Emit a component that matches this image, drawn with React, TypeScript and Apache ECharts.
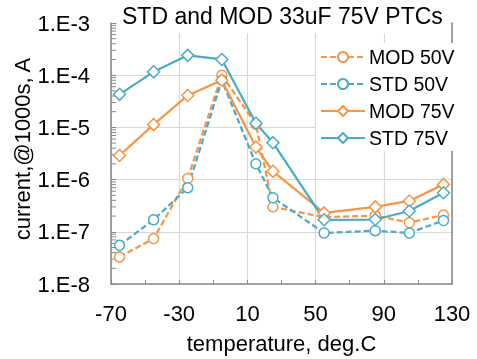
import React, { useEffect, useRef } from "react";
import * as echarts from "echarts";

const titleText = "STD and MOD 33uF 75V PTCs";
const xName = "temperature, deg.C";
const yName = "current,@1000s, A";

const temps = [-65, -45, -25, -5, 15, 25, 55, 85, 105, 125];
const mod50 = [3.3e-8, 7.4e-8, 1.05e-6, 1.0e-4, 1.15e-5, 3.0e-7, 1.9e-7, 2.05e-7, 1.5e-7, 2.1e-7];
const std50 = [5.5e-8, 1.7e-7, 7.0e-7, 8.0e-5, 2.0e-6, 4.5e-7, 9.5e-8, 1.05e-7, 9.5e-8, 1.65e-7];
const mod75 = [2.9e-6, 1.13e-5, 4.1e-5, 8.0e-5, 4.2e-6, 1.44e-6, 2.3e-7, 3.0e-7, 3.9e-7, 8.1e-7];
const std75 = [4.3e-5, 1.16e-4, 2.4e-4, 2.0e-4, 1.2e-5, 5.1e-6, 1.7e-7, 1.72e-7, 2.5e-7, 5.6e-7];

const seriesNames = ["MOD 50V", "STD 50V", "MOD 75V", "STD 75V"];

const X_MIN = -70;
const X_MAX = 130;
const X_STEP = 40;
const Y_MIN = 1e-8;
const Y_MAX = 1e-3;

const ORANGE = "#F79646";
const BLUE = "#4BACC6";
const AXIS = "#898989";
const GRID = "#D9D9D9";
const FONT = "Liberation Sans, Arial, sans-serif";

// minor log ticks (2..9 x 10^n)
const minorTicks: number[] = [];
for (let e = -8; e < -3; e++) {
  for (let m = 2; m <= 9; m++) minorTicks.push(m * Math.pow(10, e));
}

export default function App() {
  const ref = useRef<HTMLDivElement>(null);
  useEffect(() => {
    if (!ref.current) return;
    const chart = echarts.init(ref.current, null, { renderer: "svg" });
    const toPts = (ys: number[]) => temps.map((t, i) => [t - X_MIN, ys[i]]);
    const mk = (name: string, ys: number[], color: string, dashed: boolean, symbol: string, size: number) => ({
      name,
      type: "line",
      data: toPts(ys),
      symbol,
      symbolSize: size,
      showSymbol: true,
      lineStyle: { color, width: 2.25, type: dashed ? [6, 3] : "solid" },
      itemStyle: { color: "#fff", borderColor: color, borderWidth: 1.5 },
      emphasis: { disabled: true },
      z: 3,
    });
    chart.setOption({
      animation: false,
      title: {
        text: titleText,
        left: 117,
        top: 0,
        padding: [4, 8, 6, 5],
        backgroundColor: "#fff",
        textStyle: { fontFamily: FONT, fontSize: 23, fontWeight: "normal", color: "#000" },
      },
      legend: {
        data: seriesNames,
        orient: "vertical",
        left: 316,
        top: 43,
        padding: [4, 4, 3, 4],
        backgroundColor: "#fff",
        itemWidth: 44,
        itemHeight: 12.5,
        itemGap: 7,
        textStyle: { fontFamily: FONT, fontSize: 19.5, color: "#000", padding: [0, 0, 0, -1] },
      },
      grid: { left: 111, right: 25, top: 23, bottom: 72.5, containLabel: false },
      xAxis: {
        type: "value",
        min: 0,
        max: X_MAX - X_MIN,
        interval: X_STEP,
        name: xName,
        nameLocation: "middle",
        nameGap: 48,
        nameTextStyle: { fontFamily: FONT, fontSize: 22, color: "#000" },
        axisLine: { show: true, onZero: false, lineStyle: { color: AXIS, width: 1.5 } },
        axisTick: { show: true, inside: true, length: 4, lineStyle: { color: AXIS, width: 1 } },
        minorTick: { show: true, splitNumber: 2, length: 4, lineStyle: { color: AXIS, width: 1 } },
        axisLabel: {
          margin: 18,
          fontFamily: FONT,
          fontSize: 22,
          color: "#000",
          formatter: (v: number) => String(Math.round(v + X_MIN)),
        },
        splitLine: { show: true, lineStyle: { color: GRID, width: 1.2 } },
      },
      yAxis: [
        {
          type: "log",
          logBase: 10,
          min: Y_MIN,
          max: Y_MAX,
          axisLine: { show: true, lineStyle: { color: AXIS, width: 1.5 } },
          axisTick: { show: true, inside: true, length: 5, lineStyle: { color: AXIS, width: 1 } },
          axisLabel: {
            margin: 21,
            fontFamily: FONT,
            fontSize: 22,
            color: "#000",
            formatter: (v: number) => "1.E" + Math.round(Math.log10(v)),
          },
          splitLine: { show: true, lineStyle: { color: GRID, width: 1.2 } },
        },
        {
          type: "log",
          logBase: 10,
          min: Y_MIN,
          max: Y_MAX,
          position: "right",
          axisLine: { show: true, lineStyle: { color: AXIS, width: 1.5 } },
          axisTick: { show: false },
          axisLabel: { show: false },
          splitLine: { show: false },
        },
      ],
      graphic: [
        {
          type: "text",
          x: 22,
          y: 149,
          rotation: Math.PI / 2,
          style: {
            text: yName,
            fontFamily: FONT,
            fontSize: 22,
            fill: "#000",
            textAlign: "center",
            textVerticalAlign: "middle",
          },
        },
      ],
      series: [
        {
          name: "minorTicks",
          type: "custom",
          silent: true,
          clip: false,
          z: 2,
          data: minorTicks.map((v) => [0, v]),
          renderItem: (params: any, api: any) => {
            const p = api.coord([api.value(0), api.value(1)]);
            return {
              type: "line",
              shape: { x1: p[0], y1: p[1], x2: p[0] + 5, y2: p[1] },
              style: { stroke: AXIS, lineWidth: 1 },
            };
          },
        },
        mk(seriesNames[0], mod50, ORANGE, true, "circle", 10),
        mk(seriesNames[1], std50, BLUE, true, "circle", 10),
        mk(seriesNames[2], mod75, ORANGE, false, "diamond", 12),
        mk(seriesNames[3], std75, BLUE, false, "diamond", 12),
      ],
    });
    return () => chart.dispose();
  }, []);
  return (
    <div
      ref={ref}
      style={{ position: "fixed", left: 0, top: 0, width: 477, height: 359 }}
    />
  );
}
